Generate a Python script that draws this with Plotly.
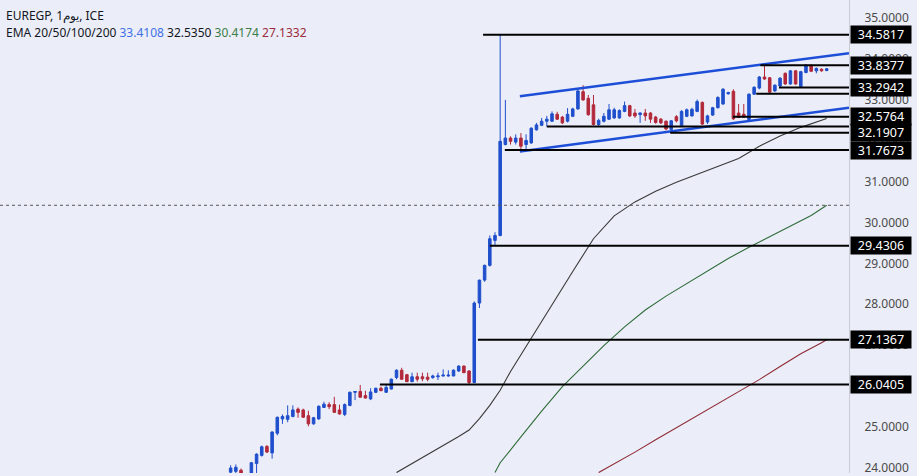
import plotly.graph_objects as go

# ---------------- data ----------------
day = list(range(116))
opens = [23.90,23.92,23.95,23.85,23.75,24.11,24.31,24.53,24.37,24.85,25.20,25.19,25.26,25.44,25.42,25.28,25.08,25.20,25.48,25.55,25.55,25.42,25.31,25.53,25.85,25.87,25.77,25.69,25.85,25.95,25.85,25.93,26.21,
         26.39,26.28,26.11,26.23,26.23,26.22,26.21,26.23,26.25,26.25,26.25,26.37,26.49,26.37,26.09,28.03,28.59,28.95,29.56,29.68,
         31.90,32.06,31.96,32.06,31.90,31.94,32.26,32.37,32.47,32.47,32.64,32.57,32.47,32.59,32.77,33.19,33.03,32.87,32.39,32.47,32.52,32.55,32.55,32.71,32.85,32.67,32.63,32.67,32.67,32.57,32.52,32.47,32.27,
         32.58,32.37,32.59,32.60,32.71,32.93,32.45,32.62,32.80,32.89,33.14,33.20,32.67,32.64,32.51,33.13,33.28,33.55,33.53,33.21,33.33,33.64,33.38,33.70,33.32,33.66,33.83,33.70,33.74,33.71]
highs = [24.07,24.09,23.99,23.88,24.15,24.36,24.55,24.56,24.90,25.26,25.31,25.53,25.53,25.48,25.45,25.40,25.25,25.53,25.62,25.61,25.74,25.55,25.58,25.87,25.88,26.03,25.89,25.95,25.96,25.99,26.05,26.19,26.41,
         26.45,26.30,26.33,26.33,26.33,26.33,26.28,26.33,26.41,26.39,26.41,26.51,26.51,26.39,28.07,28.60,28.97,29.68,29.76,34.5817,
         32.99,32.10,32.15,32.18,32.15,32.32,32.43,32.55,32.60,32.71,32.70,32.60,32.79,32.80,33.25,33.35,33.11,33.11,32.53,32.67,32.89,32.80,32.76,32.95,32.87,32.77,32.69,32.77,32.69,32.60,32.55,32.49,32.50,
         32.62,32.74,32.78,32.80,33.00,32.95,32.63,32.82,33.08,33.28,33.19,33.25,32.89,32.89,33.15,33.32,33.57,33.8377,33.55,33.37,33.55,33.66,33.72,33.72,33.70,33.86,33.86,33.78,33.76,33.77]
lows = [23.80,23.80,23.80,23.60,23.70,23.85,24.28,24.37,24.23,24.80,25.08,25.12,25.24,25.23,25.23,25.02,25.06,25.18,25.47,25.44,25.35,25.31,25.27,25.51,25.66,25.72,25.70,25.66,25.83,25.88,25.84,25.92,26.17,
        26.15,26.10,26.10,26.11,26.12,26.12,26.18,26.15,26.23,26.23,26.24,26.35,26.32,26.0405,26.07,27.91,28.55,28.92,29.4306,29.66,
        31.88,31.90,31.90,31.7673,31.77,31.92,32.24,32.35,32.34,32.45,32.50,32.40,32.44,32.57,32.75,32.97,32.60,32.37,32.34,32.44,32.50,32.53,32.53,32.69,32.57,32.55,32.43,32.48,32.43,32.41,32.40,32.25,32.1907,
        32.44,32.35,32.57,32.58,32.69,32.38,32.40,32.60,32.78,32.87,33.12,32.50,32.5764,32.55,32.47,33.11,33.25,33.48,33.15,33.19,33.2942,33.36,33.36,33.36,33.29,33.64,33.67,33.64,33.68,33.69]
closes = [24.00,24.02,23.85,23.70,24.13,24.34,24.52,24.39,24.88,25.24,25.26,25.28,25.42,25.36,25.24,25.08,25.23,25.51,25.56,25.50,25.36,25.32,25.55,25.85,25.87,25.73,25.71,25.86,25.95,25.89,25.97,26.17,26.39,
          26.17,26.11,26.23,26.17,26.18,26.17,26.25,26.25,26.27,26.27,26.39,26.49,26.33,26.09,28.03,28.59,28.95,29.60,29.68,31.98,
          32.06,31.98,32.06,31.86,32.00,32.30,32.38,32.47,32.52,32.65,32.52,32.43,32.64,32.77,33.21,32.99,32.63,32.39,32.49,32.59,32.75,32.75,32.73,32.85,32.60,32.60,32.67,32.60,32.52,32.44,32.43,32.28,32.48,
          32.48,32.71,32.75,32.76,32.95,32.40,32.60,32.80,33.05,33.25,33.17,32.53,32.56,32.57,33.13,33.30,33.55,33.50,33.18,33.35,33.52,33.38,33.70,33.38,33.68,33.84,33.69,33.76,33.70,33.75]

# EMA curves (day index, value)
ema50_day = [32, 36, 40, 44, 46, 48, 50, 52, 54, 58, 62, 66, 70, 74, 78, 82, 86, 90, 94, 98, 102, 106, 110, 114, 115]
ema50_val = [23.89, 24.18, 24.47, 24.77, 24.93, 25.21, 25.53, 25.90, 26.36, 27.18, 28.00, 28.80, 29.60, 30.16, 30.50, 30.76, 30.98, 31.17, 31.37, 31.56, 31.86, 32.11, 32.32, 32.48, 32.535]
ema100_day = [51, 52, 56, 60, 64, 68, 72, 76, 80, 84, 88, 92, 96, 100, 104, 108, 112, 115]
ema100_val = [23.89, 24.13, 24.76, 25.39, 25.99, 26.50, 26.99, 27.45, 27.86, 28.20, 28.51, 28.83, 29.12, 29.39, 29.65, 29.90, 30.17, 30.4174]
ema200_day = [71, 74, 78, 82, 86, 90, 94, 98, 102, 106, 110, 114, 115]
ema200_val = [23.89, 24.10, 24.39, 24.69, 24.98, 25.28, 25.58, 25.87, 26.16, 26.48, 26.79, 27.06, 27.1332]

# trend channel (day index, price)
upper_day = [55.8, 119.3]
upper_val = [33.08, 34.13]
lower_day = [55.8, 119.3]
lower_val = [31.73, 32.80]

# horizontal levels: price, starting day, labelled?
level_price = [34.5817, 33.8377, 33.2942, 33.14, 32.5764, 32.34, 32.1907, 31.7673, 29.4306, 27.1367, 26.0405]
level_start = [48.7, 102.2, 105.8, 101.4, 96.9, 61.0, 84.8, 52.9, 50.0, 47.7, 28.8]
level_label = [True, True, True, False, True, False, True, True, True, True, True]

ema_names = ["EMA 20", "EMA 50", "EMA 100", "EMA 200"]
ema_last = [33.4108, 32.5350, 30.4174, 27.1332]
ema_colors = ["#3f6fe6", "#131722", "#3b7d46", "#9c2b3b"]

tick_vals = [24, 25, 26, 27, 28, 29, 30, 31, 32, 33, 34, 35]

# ---------------- figure ----------------
BLUE = "#1f4fcc"
RED = "#b2283a"
BG = "#ebeef8"
X_MIN, X_MAX = -44.5, 119.3

fig = go.Figure()

fig.add_trace(go.Candlestick(
    x=day, open=opens, high=highs, low=lows, close=closes,
    increasing=dict(line=dict(color=BLUE, width=1), fillcolor=BLUE),
    decreasing=dict(line=dict(color=RED, width=1), fillcolor=RED),
    whiskerwidth=0, showlegend=False, hoverinfo="skip"))

for dd, vv, col in [(ema50_day, ema50_val, "#3a3a3a"), (ema100_day, ema100_val, "#2f6b3a"),
                    (ema200_day, ema200_val, "#8e2a35")]:
    fig.add_trace(go.Scatter(x=dd, y=vv, mode="lines", line=dict(color=col, width=1.1),
                             showlegend=False, hoverinfo="skip"))

for dd, vv in [(upper_day, upper_val), (lower_day, lower_val)]:
    fig.add_trace(go.Scatter(x=dd, y=vv, mode="lines", line=dict(color="#1d4ed8", width=2.5),
                             showlegend=False, hoverinfo="skip"))

lx, ly = [], []
for p, s in zip(level_price, level_start):
    lx += [s, X_MAX + 5, None]
    ly += [p, p, None]
fig.add_trace(go.Scatter(x=lx, y=ly, mode="lines", line=dict(color="#000000", width=2),
                         showlegend=False, hoverinfo="skip"))

# dotted price line
fig.add_shape(type="line", xref="paper", x0=0, x1=1, yref="y", y0=ema_last[2], y1=ema_last[2],
              line=dict(color="#555555", width=1, dash="dot"))

annotations = []
for p, lab in zip(level_price, level_label):
    if not lab:
        continue
    annotations.append(dict(
        x=1, xref="paper", y=p, yref="y", xanchor="left", yanchor="middle", xshift=1,
        text=f"{p:.4f}", showarrow=False, bgcolor="#000000", borderpad=1, width=58, height=15,
        font=dict(color="#ffffff", size=12.5, family="Noto Sans")))

annotations.append(dict(x=0, xref="paper", y=1, yref="paper", xanchor="left", yanchor="top",
                        xshift=4, yshift=-5, showarrow=False, align="left",
                        text="EUREGP, 1يوم, ICE",
                        font=dict(color="#131722", size=12, family="Noto Sans")))
ema_text = "EMA 20/50/100/200 " + " ".join(
    f"<span style='color:{c}'>{v:.4f}</span>" for v, c in zip(ema_last, ema_colors))
annotations.append(dict(x=0, xref="paper", y=1, yref="paper", xanchor="left", yanchor="top",
                        xshift=4, yshift=-22, showarrow=False, align="left",
                        text=ema_text, font=dict(color="#131722", size=12, family="Noto Sans")))

fig.update_layout(
    width=917, height=476,
    margin=dict(l=0, r=68, t=0, b=0),
    paper_bgcolor=BG, plot_bgcolor=BG,
    showlegend=False,
    annotations=annotations,
    xaxis=dict(range=[X_MIN, X_MAX], visible=False, rangeslider=dict(visible=False),
               showgrid=False, zeroline=False),
    yaxis=dict(range=[23.88, 35.43], side="right", showgrid=False, zeroline=False,
               tickvals=tick_vals, ticktext=[f"{v:.4f}" for v in tick_vals],
               tickfont=dict(color="#4a4a4a", size=12, family="Noto Sans"),
               ticks="", ticklabelstandoff=12, ticklabeloverflow="allow",
               showline=True, linecolor="#c9ccd6", linewidth=1),
)

fig.write_html("out.html", config={"displayModeBar": False},
               post_script="document.body.style.margin='0px';document.body.style.overflow='hidden';")
